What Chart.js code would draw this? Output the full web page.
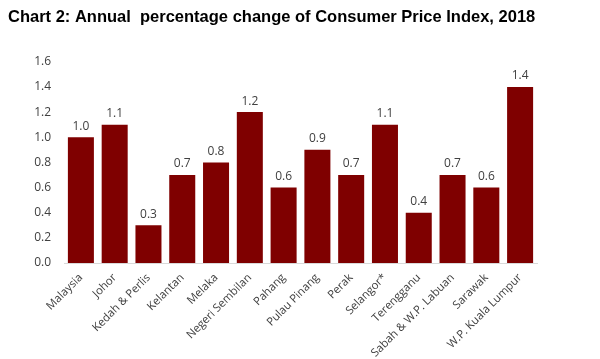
<!DOCTYPE html>
<html>
<head>
<meta charset="utf-8">
<script src="https://cdn.jsdelivr.net/npm/chart.js@4"></script>
<style>
html,body{margin:0;padding:0;background:#fff;}
#wrap{width:600px;height:359px;position:relative;}
</style>
</head>
<body>
<div id="wrap"><canvas id="c" width="600" height="359"></canvas></div>
<script>
const categories = ["Malaysia","Johor","Kedah & Perlis","Kelantan","Melaka","Negeri Sembilan","Pahang","Pulau Pinang","Perak","Selangor*","Terengganu","Sabah & W.P. Labuan","Sarawak","W.P. Kuala Lumpur"];
const values = [1.0,1.1,0.3,0.7,0.8,1.2,0.6,0.9,0.7,1.1,0.4,0.7,0.6,1.4];
const yTicks = [0.0,0.2,0.4,0.6,0.8,1.0,1.2,1.4,1.6];

const valueLabels = {
  id: 'valueLabels',
  afterDatasetsDraw(chart) {
    const ctx = chart.ctx;
    const meta = chart.getDatasetMeta(0);
    ctx.save();
    ctx.font = '12px "Open Sans", Lato, sans-serif';
    ctx.fillStyle = '#404040';
    ctx.textAlign = 'center';
    ctx.textBaseline = 'bottom';
    meta.data.forEach((bar, i) => {
      ctx.fillText(values[i].toFixed(1), bar.x, bar.y - 5);
    });
    ctx.restore();
  }
};

new Chart(document.getElementById('c'), {
  type: 'bar',
  data: {
    labels: categories,
    datasets: [{
      data: values,
      backgroundColor: '#7f0000',
      borderWidth: 0,
      barPercentage: 0.77,
      categoryPercentage: 1.0
    }]
  },
  options: {
    responsive: false,
    animation: false,
    devicePixelRatio: 1,
    layout: { padding: { left: 8, right: 63, top: 0, bottom: 0 } },
    plugins: {
      legend: { display: false },
      tooltip: { enabled: false },
      title: {
        display: true,
        text: 'Chart 2: Annual  percentage change of Consumer Price Index, 2018',
        align: 'start',
        color: '#000',
        font: { family: '"Liberation Sans", Arial, sans-serif', size: 16.5, weight: 'bold' },
        padding: { top: 8, bottom: 34 }
      }
    },
    scales: {
      x: {
        afterFit(scale) { scale.height = 96; },
        grid: { display: false },
        border: { display: true, color: '#d9d9d9' },
        ticks: {
          color: '#404040',
          font: { family: '"Open Sans", Lato, sans-serif', size: 11.3 },
          maxRotation: 45, minRotation: 45,
          padding: 0,
          autoSkip: false
        }
      },
      y: {
        min: 0, max: 1.6,
        afterFit(scale) { scale.width = 56; },
        afterBuildTicks(scale) { scale.ticks = yTicks.map(v => ({ value: v })); },
        grid: { display: false },
        border: { display: false },
        ticks: {
          color: '#404040',
          font: { family: '"Open Sans", Lato, sans-serif', size: 12 },
          padding: 5,
          callback: v => Number(v).toFixed(1)
        }
      }
    }
  },
  plugins: [valueLabels]
});
</script>
</body>
</html>
